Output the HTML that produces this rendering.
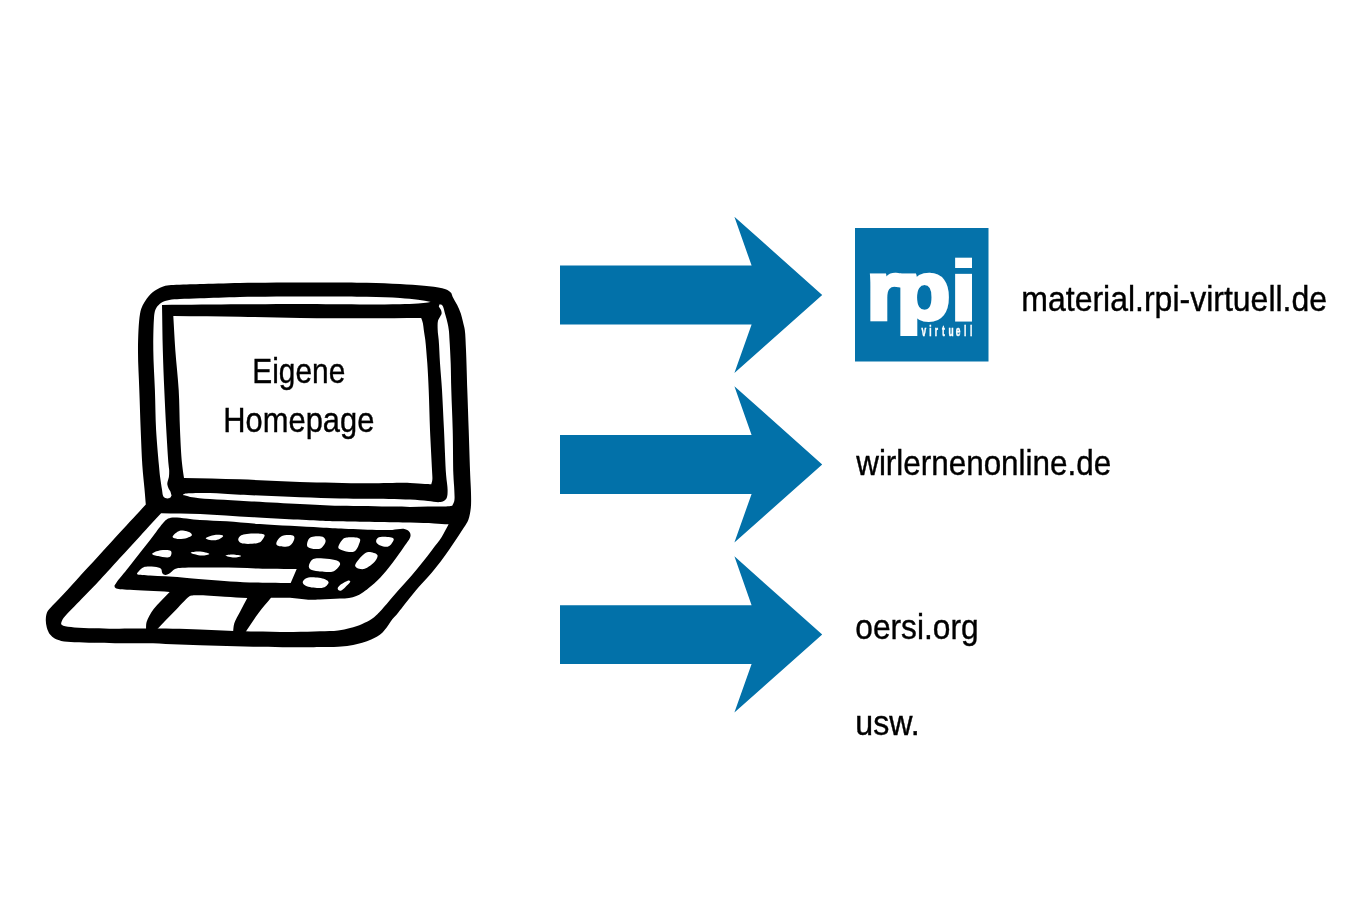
<!DOCTYPE html>
<html lang="de">
<head>
<meta charset="utf-8">
<title>Eigene Homepage</title>
<style>
html,body{margin:0;padding:0;background:#fff;}
body{width:1350px;height:914px;overflow:hidden;}
svg{display:block;will-change:transform;}
</style>
</head>
<body>
<svg width="1350" height="914" viewBox="0 0 1350 914">
<rect width="1350" height="914" fill="#fff"/>
<g id="laptop">
<path fill="#000" d="M140.0 314.0C140.7 310.1 141.5 307.9 142.7 305.3C143.8 302.9 145.3 300.7 146.7 298.7C148.0 296.9 149.3 295.4 150.7 294.0C152.0 292.7 153.2 291.7 154.7 290.7C156.3 289.6 158.2 288.5 160.0 287.7C161.7 286.9 163.3 286.2 165.3 285.7C167.7 285.1 170.3 285.1 173.3 284.9C177.2 284.6 182.2 284.6 186.7 284.4C191.1 284.3 194.4 284.2 200.0 284.0C209.8 283.7 225.3 283.2 240.0 282.9C258.0 282.6 279.5 282.4 300.0 282.4C321.6 282.4 348.3 282.3 366.7 282.7C379.7 283.0 389.8 283.4 400.0 284.0C408.7 284.5 416.6 285.0 424.0 285.8C430.5 286.5 437.8 287.2 442.2 288.3C444.8 288.9 446.6 289.5 448.2 290.4C449.5 291.1 450.5 292.0 451.2 293.1C451.9 294.1 451.9 295.3 452.6 296.7C453.6 298.9 455.8 302.3 457.2 305.1C458.6 307.9 459.8 310.6 460.8 313.6C461.8 316.7 462.6 320.3 463.3 323.2C463.9 325.7 464.4 327.1 464.8 330.0C465.5 334.9 465.6 342.2 466.0 350.0C466.5 361.0 466.9 376.7 467.3 390.0C467.8 403.3 468.2 416.3 468.7 430.0C469.2 444.6 469.7 463.4 470.2 475.0C470.5 482.4 470.9 487.3 471.0 493.0C471.1 498.2 471.3 503.2 470.8 507.9C470.3 512.2 469.6 516.5 468.3 520.0C467.2 522.9 465.6 524.9 463.9 527.6C461.9 530.8 459.5 534.3 457.2 537.8C454.7 541.6 452.0 545.6 449.3 549.5C446.5 553.5 443.7 557.5 440.5 561.7C436.9 566.4 432.7 571.5 428.6 576.3C424.5 581.1 419.8 585.8 416.0 590.3C412.6 594.3 409.5 598.2 406.7 601.7C404.3 604.8 401.9 607.9 400.0 610.3C398.6 612.1 397.6 613.5 396.3 615.0C395.0 616.5 393.7 617.6 392.3 619.3C390.5 621.6 388.3 625.4 386.5 627.8C385.0 629.7 383.9 631.2 382.3 632.7C380.8 634.1 379.0 635.4 377.2 636.5C375.3 637.7 373.4 638.5 371.2 639.5C368.5 640.7 365.5 641.8 362.2 642.8C358.5 643.9 354.1 644.8 350.1 645.5C346.1 646.1 342.5 646.4 338.1 646.7C332.7 647.0 325.6 647.0 320.0 647.1C315.2 647.2 312.6 647.3 306.7 647.3C294.8 647.3 271.1 647.0 253.3 646.7C235.5 646.4 217.8 645.9 200.0 645.3C182.2 644.7 162.2 643.5 146.7 643.2C134.8 643.0 124.5 643.3 115.0 643.2C107.3 643.1 101.0 643.0 94.1 642.8C87.4 642.6 80.3 642.6 74.4 642.2C69.6 641.9 64.8 641.7 61.2 640.9C58.6 640.3 56.6 639.7 54.7 638.6C52.9 637.6 51.4 636.3 50.1 634.6C48.7 632.7 47.5 629.9 46.8 627.4C46.1 624.9 45.7 622.0 45.8 619.5C45.9 617.1 46.1 614.6 47.0 612.5C47.9 610.5 49.4 609.2 51.0 607.3C53.2 604.7 56.1 602.0 59.4 598.5C64.1 593.5 70.4 586.6 76.5 579.9C83.6 572.2 91.9 563.2 99.6 554.8C107.3 546.4 116.0 536.9 122.7 529.6C127.9 523.9 132.4 519.0 136.6 514.5C140.0 510.8 142.7 507.8 145.8 504.5C145.4 499.4 145.0 494.8 144.5 489.1C143.9 482.0 142.9 473.8 142.3 465.0C141.6 454.4 141.2 442.1 140.7 430.0C140.2 417.1 139.8 403.3 139.3 390.0C138.9 376.7 137.9 363.0 138.0 350.0C138.1 337.7 138.6 321.9 140.0 314.0Z"/>
<path fill="#fff" d="M154.9 311.3C155.3 309.8 155.8 308.6 156.7 307.3C157.8 305.7 159.4 303.9 161.3 302.7C163.5 301.3 166.4 300.6 169.3 300.0C172.6 299.3 175.9 299.4 180.0 299.1C185.6 298.8 192.2 298.6 200.0 298.3C211.0 297.9 225.3 297.2 240.0 296.9C258.0 296.5 279.5 296.4 300.0 296.4C321.6 296.4 348.3 296.3 366.7 296.7C379.7 297.0 390.6 297.3 400.0 297.9C406.9 298.4 412.5 298.9 418.0 299.7C422.7 300.4 427.1 301.2 431.0 302.1C434.1 302.8 437.5 303.7 439.5 304.3C440.7 304.7 441.4 304.5 442.2 305.3C443.6 306.7 444.3 311.2 445.2 314.2C446.1 317.2 447.0 320.4 447.6 323.2C448.1 325.6 448.5 327.5 448.8 330.0C449.2 333.0 449.3 336.0 449.5 340.0C449.9 346.1 450.4 355.3 450.7 363.3C451.0 371.9 451.0 380.2 451.3 390.0C451.6 402.0 452.4 416.3 452.7 430.0C453.1 444.6 453.0 464.0 453.4 475.0C453.6 481.3 454.2 485.4 454.3 490.0C454.4 493.9 454.9 498.0 454.3 500.9C453.9 502.9 452.9 504.1 452.2 505.7C450.1 505.9 448.6 506.3 446.0 506.4C441.6 506.6 434.0 506.3 428.0 506.4C422.0 506.5 415.9 506.9 410.0 506.9C404.3 506.9 400.4 506.7 393.3 506.6C380.5 506.4 356.5 506.3 340.0 505.8C325.7 505.4 314.7 504.7 300.0 504.0C282.0 503.1 256.6 501.6 240.0 500.7C228.3 500.0 219.0 499.7 210.0 499.0C202.7 498.4 195.3 497.8 190.2 496.9C187.0 496.4 185.2 495.3 182.4 495.1C179.1 494.8 173.3 494.7 171.6 495.7C170.8 496.1 171.0 497.1 170.4 497.5C169.7 498.0 168.4 498.5 167.3 498.4C166.1 498.3 164.4 497.6 163.7 496.9C163.2 496.4 163.1 495.9 162.8 495.1C162.4 493.7 162.3 491.4 161.9 489.1C161.4 485.8 160.6 481.0 160.1 477.0C159.6 473.0 159.4 470.0 158.9 465.0C158.1 456.4 156.8 442.1 156.1 430.0C155.4 417.1 155.4 403.3 154.9 390.0C154.4 376.7 153.4 362.6 153.3 350.0C153.2 338.7 153.5 324.7 154.0 318.0C154.2 314.9 154.4 313.2 154.9 311.3Z"/>
<path fill="#000" d="M162.0 304.9C188.0 304.7 215.7 304.5 240.0 304.3C261.3 304.2 279.5 304.0 300.0 304.0C321.6 304.0 348.3 304.4 366.7 304.4C379.7 304.4 390.6 304.4 400.0 304.2C406.9 304.1 412.9 303.9 418.0 303.6C421.8 303.3 425.4 303.0 428.0 302.6C429.6 302.3 430.6 301.6 432.0 301.6C433.6 301.6 435.6 302.0 437.0 302.6C438.1 303.1 438.8 303.8 439.7 304.4C439.4 305.0 438.8 305.6 438.8 306.3C438.9 307.3 440.5 308.6 441.0 309.9C441.4 311.1 441.8 312.4 441.6 313.6C441.4 314.8 440.4 316.0 439.8 317.2C439.2 318.4 438.4 319.3 438.0 320.8C437.4 323.1 437.6 326.9 437.7 330.0C437.8 333.3 438.4 336.0 438.7 340.0C439.2 346.1 439.5 355.3 440.0 363.3C440.6 371.9 441.4 380.2 442.0 390.0C442.7 402.0 443.3 416.3 444.0 430.0C444.7 444.6 445.3 464.0 446.1 475.0C446.6 481.3 447.6 485.8 447.6 490.0C447.6 493.1 447.6 496.0 446.7 497.9C446.0 499.3 444.9 500.2 443.7 500.9C442.5 501.6 441.3 501.9 439.5 502.1C436.6 502.4 432.3 501.3 428.0 500.9C422.7 500.4 417.3 499.9 410.0 499.5C398.7 499.0 379.4 498.9 366.7 498.7C356.7 498.6 349.8 498.6 340.0 498.4C328.0 498.2 314.7 497.8 300.0 497.3C282.0 496.7 256.6 495.5 240.0 494.7C228.3 494.1 219.0 493.2 210.0 493.0C202.7 492.8 194.9 492.9 190.2 493.2C187.6 493.4 185.7 493.3 184.2 493.9C183.2 494.3 182.8 494.9 182.0 495.6C181.0 496.5 180.3 498.4 179.0 499.0C177.5 499.7 174.2 499.8 173.0 499.0C172.1 498.4 172.0 496.9 171.6 495.7C171.1 494.4 170.9 492.8 170.4 491.5C169.9 490.4 169.1 489.6 168.6 488.5C168.0 487.2 167.4 485.6 167.3 484.3C167.2 483.2 167.5 482.4 167.7 481.3C168.0 480.0 168.6 478.6 168.9 477.0C169.2 475.2 169.2 473.0 169.2 471.0C169.2 469.0 168.8 467.8 168.6 465.0C168.0 458.2 167.0 442.1 166.3 430.0C165.6 417.1 164.9 403.3 164.3 390.0C163.7 376.7 163.2 363.7 162.8 350.0C162.4 335.4 162.3 319.9 162.0 304.9Z"/>
<path fill="#fff" d="M173.3 316.0C195.5 316.2 218.4 316.4 240.0 316.7C260.5 317.0 279.5 317.7 300.0 318.0C321.6 318.3 345.6 318.3 366.7 318.3C385.8 318.3 403.0 318.0 421.2 317.9C421.8 319.7 422.5 321.3 422.9 323.2C423.4 325.3 423.4 327.5 423.8 330.0C424.2 333.0 424.8 336.0 425.3 340.0C426.0 346.1 426.7 355.3 427.3 363.3C427.9 371.9 428.3 380.2 428.7 390.0C429.2 402.0 429.5 416.7 430.0 430.0C430.6 443.3 431.6 461.1 432.0 470.0C432.2 474.4 432.6 477.4 432.3 480.0C432.1 481.7 431.6 482.8 431.3 484.2C429.2 484.1 427.5 484.1 425.0 484.0C421.1 483.8 416.3 483.1 410.0 482.9C399.3 482.6 382.7 483.4 366.7 483.3C346.9 483.2 321.6 482.7 300.0 482.0C279.5 481.3 259.7 480.0 240.0 479.3C221.0 478.7 202.7 478.4 184.0 478.0C183.3 473.1 182.6 469.2 182.0 463.3C181.1 454.5 180.5 441.6 180.0 430.0C179.4 417.3 179.5 403.3 178.7 390.0C177.9 376.7 176.2 362.8 175.3 350.0C174.5 338.2 174.0 327.3 173.3 316.0Z"/>
<path fill="#fff" d="M161.1 513.2C174.1 513.5 186.0 513.4 200.0 514.0C216.4 514.7 234.5 516.2 253.3 517.3C274.3 518.5 304.3 520.1 320.0 520.7C328.6 521.0 331.3 521.1 340.0 521.3C356.3 521.7 392.7 522.2 410.0 522.6C420.1 522.9 427.1 523.1 434.1 523.4C439.5 523.7 443.8 524.0 448.6 524.3C446.3 528.5 444.3 532.8 441.7 536.9C439.0 541.2 435.6 545.1 432.4 549.4C429.0 553.9 425.3 558.8 421.7 563.3C418.2 567.7 414.8 571.9 411.0 576.3C407.0 580.9 402.5 585.6 398.4 590.3C394.4 594.8 390.1 600.0 386.7 603.9C384.2 606.8 381.9 609.4 380.0 611.4C378.7 612.8 377.8 613.7 376.5 614.9C375.0 616.3 373.4 617.8 371.3 619.2C368.8 620.9 365.5 622.5 362.2 623.9C358.5 625.5 354.2 627.0 350.1 628.1C346.1 629.2 342.5 630.0 338.1 630.5C332.7 631.2 326.6 631.1 320.0 631.3C312.0 631.6 303.5 631.9 293.3 632.0C279.6 632.1 261.1 631.7 245.3 631.3C230.0 630.9 215.7 629.9 200.0 629.5C183.0 629.0 162.2 628.7 146.7 628.6C134.8 628.5 124.5 628.8 115.0 628.7C107.3 628.6 101.0 628.4 94.1 628.2C87.4 628.0 80.0 627.9 74.4 627.4C70.1 627.0 65.3 626.8 63.2 625.8C62.2 625.3 61.4 624.9 61.2 624.1C60.9 623.1 61.8 621.1 62.4 619.8C63.0 618.5 63.9 617.6 65.0 616.2C66.8 614.1 69.7 611.3 72.3 608.6C75.2 605.6 78.5 602.1 81.5 599.0C84.3 596.1 87.1 593.4 89.8 590.6C92.6 587.8 94.7 585.7 98.0 582.1C103.4 576.3 112.0 566.8 119.0 559.1C126.0 551.5 134.0 542.8 140.0 536.2C144.6 531.2 148.3 527.1 152.0 523.0C155.2 519.5 158.1 516.5 161.1 513.2Z"/>
<path fill="#000" d="M172.5 517.6C178.1 517.0 190.9 519.4 200.0 520.0C209.0 520.6 217.3 520.7 226.7 521.3C237.2 522.0 247.3 523.2 260.0 524.1C277.1 525.3 304.4 526.7 320.0 527.5C329.9 528.0 335.4 528.3 344.3 528.7C355.1 529.1 371.2 529.8 380.0 529.9C385.2 530.0 388.3 530.1 392.4 529.9C396.5 529.7 401.5 528.3 404.5 529.0C406.5 529.5 408.3 530.4 409.3 531.7C410.2 532.8 410.7 534.2 410.5 535.9C410.2 538.6 406.9 542.3 404.5 546.1C401.3 551.1 396.5 557.7 392.4 563.0C388.5 568.1 384.6 573.1 380.4 577.4C376.5 581.4 371.8 585.5 368.4 588.3C366.0 590.3 364.1 591.7 362.0 593.0C360.1 594.2 358.4 595.3 356.3 596.1C354.1 597.0 351.6 597.6 349.0 598.0C346.2 598.5 343.6 598.4 340.0 598.6C334.6 598.9 325.8 599.3 320.0 599.5C315.6 599.6 312.6 599.9 308.2 599.7C302.8 599.5 296.1 598.1 290.0 597.8C283.7 597.5 277.3 597.8 271.0 597.8C266.7 603.1 262.2 608.1 258.0 613.8C253.5 619.8 249.3 626.6 244.9 633.0C240.9 633.0 237.0 633.0 233.0 633.0C233.4 629.8 233.3 626.6 234.3 623.3C235.5 619.5 238.1 615.5 240.2 611.5C242.4 607.2 244.9 602.6 247.3 598.1C239.8 597.6 232.7 597.2 224.8 596.7C215.9 596.2 201.9 595.1 196.4 595.2C194.1 595.2 192.9 595.3 191.6 595.6C190.6 595.8 190.2 595.8 189.2 596.5C186.1 598.5 179.1 606.7 173.8 612.1C168.2 617.8 162.3 624.0 156.5 630.0C153.0 630.0 149.5 630.0 146.0 630.0C146.2 627.4 145.8 625.0 146.6 622.1C147.8 618.2 150.5 613.5 153.7 609.1C157.7 603.5 164.4 597.6 169.7 591.9C156.5 591.2 138.8 590.3 130.0 589.8C125.6 589.6 122.7 589.7 120.0 589.3C118.2 589.0 116.4 588.8 115.5 588.0C114.9 587.5 114.5 586.7 114.5 585.9C114.5 585.0 115.3 584.2 116.2 582.9C118.4 579.7 124.4 572.7 128.5 567.5C132.7 562.2 136.8 556.8 141.0 551.5C145.2 546.2 149.6 540.6 153.5 535.5C157.0 530.9 160.9 525.3 163.5 522.5C164.9 521.0 165.6 520.1 167.0 519.3C168.5 518.4 169.9 517.9 172.5 517.6Z"/>
<path fill="#fff" d="M172.6 537.1C172.3 535.7 176.9 531.5 179.8 530.7C182.9 529.9 189.0 531.6 190.7 532.9C191.6 533.6 192.1 534.6 191.9 535.3C191.6 536.3 189.0 537.3 187.0 537.9C184.4 538.7 180.0 539.2 177.4 538.9C175.5 538.7 172.8 538.1 172.6 537.1Z M205.7 538.3C205.7 537.3 211.7 535.4 214.7 535.0C217.5 534.6 222.9 535.0 223.2 535.9C223.4 536.7 220.4 538.8 218.4 539.5C216.1 540.4 212.2 540.5 209.9 540.1C208.2 539.8 205.7 539.0 205.7 538.3Z M238.2 539.5C238.2 538.2 239.4 536.3 241.2 535.3C245.1 533.2 263.0 532.8 264.5 534.9C265.1 535.8 263.7 537.7 262.9 538.9C262.0 540.2 261.2 541.7 259.3 542.5C255.7 544.0 244.5 544.6 241.2 543.1C239.5 542.3 238.2 540.8 238.2 539.5Z M276.3 543.7C276.3 542.1 278.6 537.9 281.1 536.5C284.1 534.8 292.0 534.6 293.7 535.9C294.5 536.5 294.5 537.8 294.3 538.9C294.0 540.7 292.0 544.2 290.1 545.5C288.5 546.6 286.1 546.7 284.1 546.7C282.0 546.7 278.7 546.3 277.5 545.5C276.8 545.0 276.3 544.5 276.3 543.7Z M307.0 544.9C306.9 543.3 308.0 539.7 309.4 538.3C310.6 537.1 312.3 536.8 314.2 536.5C316.8 536.2 322.0 536.1 323.8 537.4C325.0 538.3 325.7 539.9 325.6 541.3C325.5 543.2 323.3 546.6 321.4 547.9C319.8 549.0 317.5 549.1 315.4 549.1C313.1 549.0 309.5 548.4 308.2 547.3C307.4 546.7 307.1 545.9 307.0 544.9Z M338.3 547.3C338.2 545.5 341.3 540.5 343.1 538.9C344.2 537.9 345.1 537.6 346.7 537.4C349.7 537.0 358.5 536.9 359.9 538.9C360.9 540.2 359.4 543.0 358.7 544.9C357.9 547.0 356.7 549.7 355.1 550.9C353.8 551.9 352.2 552.1 350.3 552.1C347.4 552.1 341.2 550.4 339.5 549.1C338.7 548.5 338.3 548.1 338.3 547.3Z M376.2 541.9C375.9 540.6 376.6 538.5 378.0 537.7C380.5 536.1 392.4 536.7 393.6 538.7C394.4 539.9 392.3 542.9 391.2 544.3C390.2 545.5 389.1 546.4 387.6 546.7C385.7 547.1 382.4 546.4 380.4 545.5C378.7 544.7 376.5 543.3 376.2 541.9Z M152.1 553.9C152.1 552.9 157.6 550.8 160.6 550.3C163.8 549.8 169.4 549.6 170.8 550.9C171.6 551.6 171.6 552.9 171.4 553.9C171.2 555.0 170.7 556.4 169.6 557.0C167.5 558.1 161.4 556.7 158.2 556.0C155.8 555.5 152.1 554.7 152.1 553.9Z M190.7 552.7C190.7 552.1 196.2 551.4 199.1 551.5C202.3 551.6 209.3 553.2 209.3 553.9C209.3 554.5 204.3 555.6 201.5 555.5C198.2 555.4 190.7 553.4 190.7 552.7Z M225.6 555.5C225.6 555.0 230.3 554.5 232.8 554.5C235.5 554.6 241.2 555.5 241.2 556.0C241.2 556.5 236.5 557.6 234.0 557.6C231.3 557.6 225.6 556.0 225.6 555.5Z M308.8 566.6C308.7 564.8 310.4 561.4 311.8 560.0C312.8 559.0 313.6 558.7 315.4 558.4C319.7 557.8 335.1 559.1 338.3 561.2C339.6 562.0 340.2 563.0 340.1 564.2C340.0 566.0 336.4 569.6 334.6 570.8C333.4 571.6 332.7 571.8 331.0 572.0C327.0 572.4 313.6 571.5 310.6 569.6C309.4 568.8 308.9 567.8 308.8 566.6Z M355.1 565.4C355.3 563.2 360.8 556.7 363.5 554.5C365.2 553.1 366.5 552.2 368.4 552.1C370.9 551.9 376.5 553.3 377.4 555.1C378.1 556.5 376.8 558.8 375.6 560.6C373.9 563.1 369.7 566.4 367.1 567.8C365.4 568.7 364.0 569.2 362.3 569.2C360.4 569.2 357.5 568.4 356.3 567.5C355.6 566.9 355.0 566.3 355.1 565.4Z M302.7 582.2C302.7 581.0 304.3 579.4 305.7 578.6C307.3 577.6 309.4 577.3 311.8 577.2C315.4 577.1 322.1 577.9 325.0 579.2C326.7 580.0 328.5 581.0 328.6 582.2C328.8 583.4 327.0 585.4 325.6 586.4C324.2 587.4 322.5 587.8 320.2 588.0C316.6 588.3 308.6 587.4 305.7 585.8C304.1 584.9 302.7 583.4 302.7 582.2Z M337.7 588.3C337.9 587.3 339.3 585.7 340.7 584.6C342.7 583.0 347.6 580.2 349.1 580.4C349.7 580.5 350.3 581.0 350.3 581.6C350.3 582.7 347.2 585.4 345.5 587.0C344.0 588.4 342.1 590.4 340.7 590.7C339.8 590.9 338.8 590.5 338.3 590.0C337.9 589.6 337.6 588.9 337.7 588.3Z"/>
<path fill="#fff" d="M137.1 574.0C136.7 573.3 138.1 572.0 139.0 571.0C140.1 569.7 141.5 567.9 143.7 567.2C147.1 566.0 155.2 566.8 158.2 567.5C159.6 567.9 160.5 568.2 161.2 569.0C162.0 570.0 161.6 572.2 162.4 573.2C163.1 574.1 164.3 574.9 165.4 575.0C166.5 575.1 167.7 574.5 169.0 573.8C170.8 572.8 172.8 570.0 175.0 569.0C177.2 568.0 178.8 568.1 182.2 567.8C189.8 567.1 206.5 567.5 220.0 567.6C235.5 567.7 255.9 568.6 270.0 568.8C280.3 569.0 287.8 568.9 296.7 569.0C294.7 573.7 292.7 578.3 290.7 583.0C283.8 582.9 278.0 583.0 270.0 582.8C258.9 582.6 244.2 582.2 230.4 581.4C215.1 580.5 194.1 578.3 182.2 577.4C175.2 576.9 170.9 576.5 165.4 576.2C160.2 575.9 154.9 575.9 150.0 575.5C145.5 575.1 137.8 575.4 137.1 574.0Z"/>
</g>
<path fill="#0271a9" d="M560.0 265.6L751.6 265.6L734.4 216.7L822.2 295.0L734.4 373.0L751.6 324.4L560.0 324.4Z M560.0 435.1L751.6 435.1L734.4 386.2L822.2 464.5L734.4 542.5L751.6 493.9L560.0 493.9Z M560.0 605.2L751.6 605.2L734.4 556.3L822.2 634.6L734.4 712.6L751.6 664.0L560.0 664.0Z"/>
<rect x="855" y="228" width="133.5" height="133.5" fill="#0572aa"/>
<clipPath id="lc"><path clip-rule="evenodd" d="M855 228H988.5V336.1H855ZM950 268.1H976V273.6H950Z"/></clipPath>
<g fill="#fff" font-family="'Liberation Sans', sans-serif" font-weight="bold">
<g clip-path="url(#lc)"><text transform="translate(866.7 319.3) scale(1.06 1)" x="0 28.37 80.05" y="0" font-size="82.3" stroke="#fff" stroke-width="4.6" stroke-linejoin="miter">rpi</text></g>
<text transform="translate(921.4 335.9) scale(0.56 1)" x="0.00 13.95 24.02 36.98 48.37 61.23 75.95 86.70" y="0" font-size="15" stroke="#fff" stroke-width="0.5">virtuell</text>
</g>
<g fill="#000" stroke="#000" stroke-width="0.4" font-family="'Liberation Sans', sans-serif">
<text x="252.3" y="383.3" font-size="35.5" textLength="93" lengthAdjust="spacingAndGlyphs" text-anchor="start">Eigene</text>
<text x="223.3" y="432.0" font-size="35.5" textLength="151" lengthAdjust="spacingAndGlyphs" text-anchor="start">Homepage</text>
<text x="1021.3" y="310.8" font-size="35.5" textLength="305.8" lengthAdjust="spacingAndGlyphs" text-anchor="start">material.rpi-virtuell.de</text>
<text x="856.2" y="474.8" font-size="35.5" textLength="255" lengthAdjust="spacingAndGlyphs" text-anchor="start">wirlernenonline.de</text>
<text x="855.3" y="638.8" font-size="35.5" textLength="123.3" lengthAdjust="spacingAndGlyphs" text-anchor="start">oersi.org</text>
<text x="855.3" y="734.9" font-size="35.5" textLength="64.4" lengthAdjust="spacingAndGlyphs" text-anchor="start">usw.</text>
</g>
</svg>
</body>
</html>
